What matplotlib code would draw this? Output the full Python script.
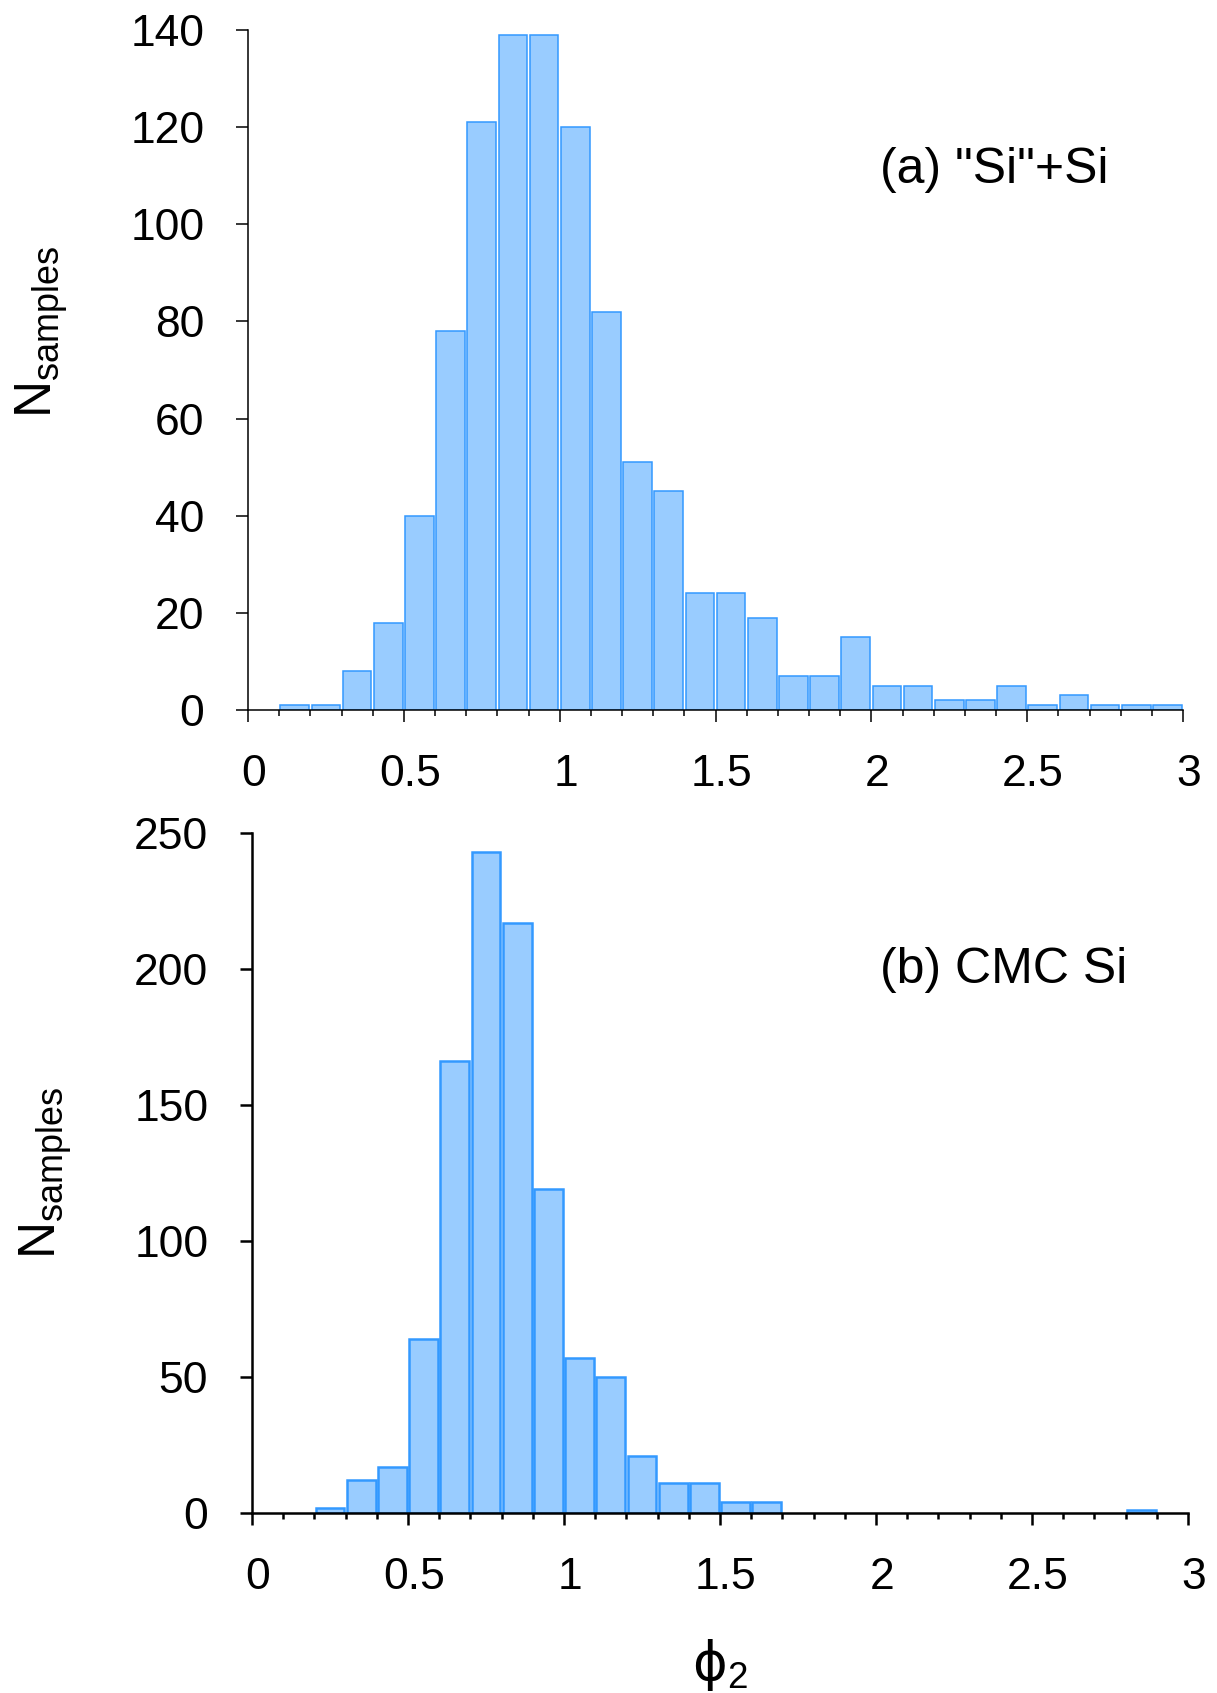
import numpy as np
import matplotlib
matplotlib.use("Agg")
import matplotlib.pyplot as plt
from matplotlib.ticker import MultipleLocator, FuncFormatter
from matplotlib.transforms import ScaledTranslation

plt.rcParams['font.family'] = ['Liberation Sans', 'DejaVu Sans']
plt.rcParams['mathtext.fontset'] = 'custom'
plt.rcParams['mathtext.rm'] = 'Liberation Sans'
plt.rcParams['mathtext.it'] = 'Liberation Sans:italic'
plt.rcParams['mathtext.sf'] = 'DejaVu Sans'

# ---- data ----
bin_lo = [0.0, 0.1, 0.2, 0.3, 0.4, 0.5, 0.6, 0.7, 0.8, 0.9,
          1.0, 1.1, 1.2, 1.3, 1.4, 1.5, 1.6, 1.7, 1.8, 1.9,
          2.0, 2.1, 2.2, 2.3, 2.4, 2.5, 2.6, 2.7, 2.8, 2.9]
bin_width = 0.1

counts_a = [0, 1, 1, 8, 18, 40, 78, 121, 139, 139,
            120, 82, 51, 45, 24, 24, 19, 7, 7, 15,
            5, 5, 2, 2, 5, 1, 3, 1, 1, 1]
counts_b = [0, 0, 2, 12, 17, 64, 166, 243, 217, 119,
            57, 50, 21, 11, 11, 4, 4, 0, 0, 0,
            0, 0, 0, 0, 0, 0, 0, 0, 1, 0]

label_a = '(a) "Si"+Si'
label_b = '(b) CMC Si'
x_ticks = [0, 0.5, 1, 1.5, 2, 2.5, 3]
yticks_a = [0, 20, 40, 60, 80, 100, 120, 140]
yticks_b = [0, 50, 100, 150, 200, 250]

face = '#99CCFF'
edge = '#3399FF'

fig = plt.figure(figsize=(12.17, 16.93), dpi=100)
ax_a = fig.add_axes([248/1217, 1 - 710/1693, (1183-248)/1217, (710-30)/1693])
ax_b = fig.add_axes([252/1217, 1 - 1513/1693, (1188-252)/1217, (1513-833)/1693])


def draw(ax, counts, yticks, lw, text, text_x, text_y):
    lo = np.array(bin_lo)
    c = np.array(counts)
    m = c > 0
    ax.bar(lo[m] + 0.004, c[m], width=bin_width - 0.008, align='edge',
           color=face, edgecolor=edge, linewidth=lw, zorder=2)
    ax.set_xlim(0, 3)
    ax.set_ylim(0, yticks[-1])
    ax.set_xticks(x_ticks)
    ax.xaxis.set_minor_locator(MultipleLocator(0.1))
    ax.xaxis.set_major_formatter(FuncFormatter(lambda v, p: f'{v:g}'))
    ax.set_yticks(yticks)
    for s in ('top', 'right'):
        ax.spines[s].set_visible(False)
    for s in ('left', 'bottom'):
        ax.spines[s].set_linewidth(lw)
        ax.spines[s].set_zorder(3)
    ax.tick_params(axis='both', which='major', direction='out', length=8.5,
                   width=lw, labelsize=32, pad=23)
    ax.tick_params(axis='x', which='minor', direction='out', length=4, width=lw)
    shift = ScaledTranslation(6/100, 0, fig.dpi_scale_trans)
    for lbl in ax.get_xticklabels():
        lbl.set_transform(lbl.get_transform() + shift)
    ax.text(text_x, text_y, text, transform=ax.transAxes, fontsize=36,
            ha='left', va='center')
    ax.set_ylabel(r'$\mathrm{N_{samples}}$', fontsize=37)


draw(ax_a, counts_a, yticks_a, 1.1, label_a, (880-248)/935, (710-170)/680)
draw(ax_b, counts_b, yticks_b, 1.8, label_b, (880-252)/936, (1513-970)/680)
ax_a.yaxis.set_label_coords(-0.19, (710-332)/680)
ax_b.yaxis.set_label_coords(-0.19, 0.5)
ax_b.set_xlabel(r'$\mathsf{\phi}_{\mathrm{2}}$', fontsize=38, labelpad=28)

fig.savefig('out.png', dpi=100)
